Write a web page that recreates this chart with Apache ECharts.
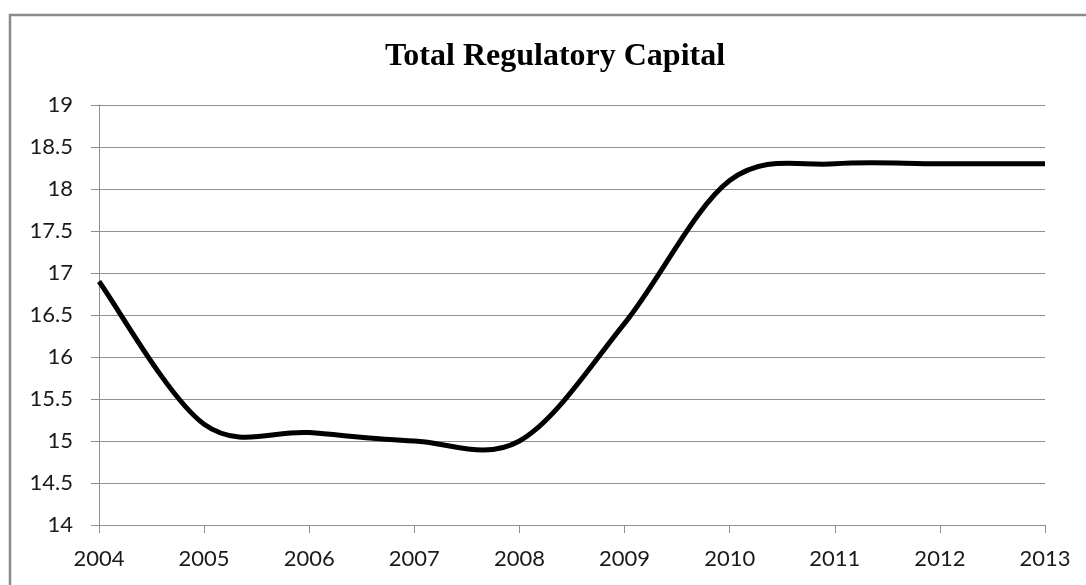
<!DOCTYPE html>
<html>
<head>
<meta charset="utf-8">
<script src="https://cdn.jsdelivr.net/npm/echarts@6/dist/echarts.min.js"></script>
<style>
  html, body { margin: 0; padding: 0; background: #ffffff; }
  #chart { width: 1086px; height: 585px; }
</style>
</head>
<body>
<div id="chart"></div>
<script>
// Years on the category axis
const years = ['2004', '2005', '2006', '2007', '2008', '2009', '2010', '2011', '2012', '2013'];
// Total regulatory capital, per year
const capital = [16.9, 15.2, 15.1, 15.0, 15.0, 16.4, 18.1, 18.3, 18.3, 18.3];
// Value axis range
const yMin = 14;
const yMax = 19;
const yStep = 0.5;

const gridColor = '#8e8e8e';
const labelFont = 'Lato, "DejaVu Sans", sans-serif';

// Draws the series as one cubic-Bezier curve through the data points
// (Catmull-Rom style tangents, as spreadsheet "smoothed lines" do).
function renderSmoothLine(params, api) {
  if (params.dataIndex !== 0) return null;
  const pts = capital.map((v, i) => api.coord([i, v]));
  const n = pts.length;
  let d = 'M' + pts[0][0] + ' ' + pts[0][1];
  for (let i = 0; i < n - 1; i++) {
    const p0 = pts[Math.max(i - 1, 0)];
    const p1 = pts[i];
    const p2 = pts[i + 1];
    const p3 = pts[Math.min(i + 2, n - 1)];
    const c1x = p1[0] + (p2[0] - p0[0]) / 6;
    const c1y = p1[1] + (p2[1] - p0[1]) / 6;
    const c2x = p2[0] - (p3[0] - p1[0]) / 6;
    const c2y = p2[1] - (p3[1] - p1[1]) / 6;
    d += ' C' + c1x + ' ' + c1y + ' ' + c2x + ' ' + c2y + ' ' + p2[0] + ' ' + p2[1];
  }
  return {
    type: 'path',
    shape: { pathData: d },
    style: {
      fill: 'none',
      stroke: '#000000',
      lineWidth: 5,
      lineJoin: 'round',
      lineCap: 'butt'
    },
    silent: true
  };
}

const chart = echarts.init(document.getElementById('chart'), null, { renderer: 'canvas' });

chart.setOption({
  backgroundColor: '#ffffff',
  animation: false,
  graphic: [{
    type: 'rect',
    shape: { x: 10, y: 15, width: 1200, height: 700 },
    style: { fill: 'none', stroke: '#8a8a8a', lineWidth: 2.5 },
    silent: true,
    z: -10
  }],
  title: {
    text: 'Total Regulatory Capital',
    left: 550,
    top: 36,
    textAlign: 'center',
    textStyle: {
      fontFamily: '"Liberation Serif", "Times New Roman", serif',
      fontWeight: 'bold',
      fontSize: 32,
      color: '#000000'
    }
  },
  grid: { left: 99, top: 105, right: 41, bottom: 60, containLabel: false },
  xAxis: {
    type: 'category',
    data: years,
    boundaryGap: false,
    axisLine: { show: true, lineStyle: { color: gridColor, width: 1 } },
    axisTick: { show: true, length: 8, alignWithLabel: true, lineStyle: { color: gridColor } },
    axisLabel: { margin: 23, fontFamily: labelFont, fontSize: 22, color: '#1a1a1a' },
    splitLine: { show: false }
  },
  yAxis: {
    type: 'value',
    min: yMin,
    max: yMax,
    interval: yStep,
    axisLine: { show: true, lineStyle: { color: gridColor, width: 1 } },
    axisTick: { show: true, length: 8, lineStyle: { color: gridColor } },
    axisLabel: { margin: 26, fontFamily: labelFont, fontSize: 22, color: '#1a1a1a' },
    splitLine: { show: true, lineStyle: { color: gridColor, width: 1 } }
  },
  series: [{
    type: 'custom',
    name: 'Total Regulatory Capital',
    data: capital.map((v, i) => [i, v]),
    encode: { x: 0, y: 1 },
    renderItem: renderSmoothLine,
    clip: false
  }]
});
</script>
</body>
</html>
